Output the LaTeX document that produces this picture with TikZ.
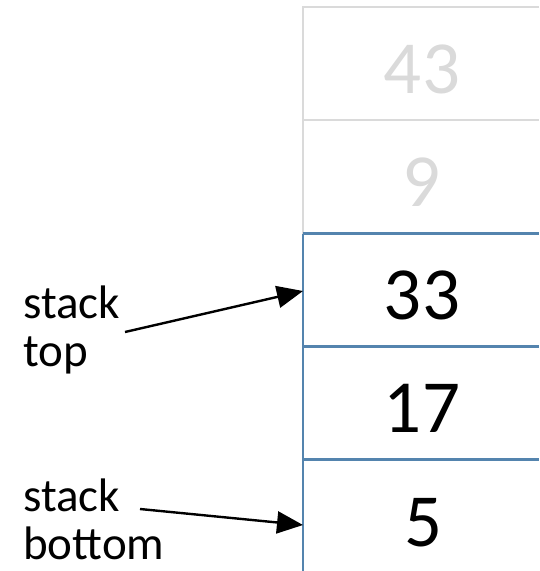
\documentclass[tikz,border=0pt]{standalone}
\usepackage{fontspec}
\setmainfont{Carlito}
\usetikzlibrary{arrows.meta}
\definecolor{cellblue}{RGB}{84,132,174}
\definecolor{cellgray}{RGB}{218,218,218}
\begin{document}
\begin{tikzpicture}[x=1pt,y=-1pt,
  num/.style={anchor=base,inner sep=0pt,font=\fontsize{75}{80}\selectfont},
  faded/.style={num,text=cellgray},
  lbl/.style={anchor=base west,inner sep=0pt,align=left,
    font=\fontsize{47}{48}\selectfont},
  pointer/.style={line width=2.4pt,-{Triangle[length=26pt,width=22pt]}},
  grid gray/.style={cellgray,line width=2.6pt},
  grid blue/.style={cellblue,line width=2.6pt}]
\useasboundingbox (0,0) rectangle (539,571);

% cell borders: two faded cells on top, three active cells below
\draw[grid gray] (539,7) -- (303,7) -- (303,233.5);
\draw[grid gray] (303,120) -- (539,120);
\draw[grid blue] (303,233.5) -- (303,571);
\draw[grid blue] (303,233.5) -- (539,233.5);
\draw[grid blue] (303,346.5) -- (539,346.5);
\draw[grid blue] (303,459.5) -- (539,459.5);

% cell contents
\node[faded] (n43) at (422,93) {43};
\node[faded] (n9)  at (422,206) {9};
\node[num]   (n33) at (422,319) {33};
\node[num]   (n17) at (422,432) {17};
\node[num]   (n5)  at (424,546) {5};

% pointer labels (anchored at the baseline of the last line)
\node[lbl] (top) at (23,366) {stack\\top};
\node[lbl] (bot) at (23,559) {stack\\bottom};

\coordinate (topstart) at (125,332);
\coordinate (toptip)   at (303,291);
\coordinate (botstart) at (140,509);
\coordinate (bottip)   at (303,525);
\draw[pointer] (topstart) -- (toptip);
\draw[pointer] (botstart) -- (bottip);
\end{tikzpicture}
\end{document}
